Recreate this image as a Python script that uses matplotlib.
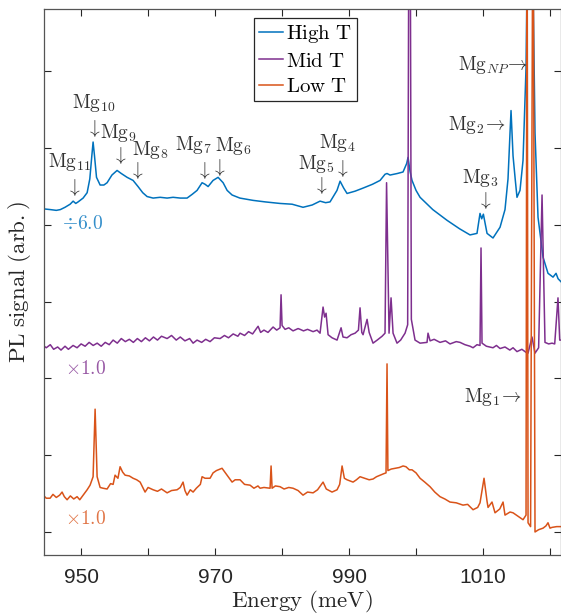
import matplotlib
matplotlib.use("Agg")
import matplotlib.pyplot as plt

plt.rcParams['mathtext.fontset'] = 'cm'
plt.rcParams['font.family'] = ['Liberation Sans', 'DejaVu Sans']

# energies (meV) and offset signal
high_E = [944.33, 945.4, 946.3, 946.9, 947.6, 948.36, 948.81, 949.2, 949.55, 950.3, 950.9, 951.3,
          951.6, 951.79, 952.0, 952.3, 952.84, 953.4, 953.88, 954.6, 955.37, 956.0, 956.87, 957.76,
          958.5, 959.2, 959.85, 960.75, 961.8, 962.84, 963.73, 964.8, 965.82, 966.6, 967.31, 968.06,
          968.5, 968.96, 969.7, 970.45, 971.2, 971.8, 972.54, 973.7, 975.67, 977.5, 979.7, 981.5,
          983.13, 984.5, 985.67, 986.5, 987.16, 988.2, 988.66, 989.2, 989.7, 990.9, 992.09, 993.5,
          994.63, 995.37, 995.67, 996.12, 997.2, 998.06, 998.6, 998.81, 999.1, 999.4, 1000.0, 1000.6,
          1002.5, 1004.63, 1006.5, 1008.06, 1009.1, 1009.55, 1009.8, 1010.05, 1010.6, 1011.49,
          1012.54, 1013.28, 1013.73, 1014.03, 1014.18, 1014.48, 1014.8, 1015.07, 1015.52, 1015.97,
          1016.42, 1016.57, 1017.0, 1017.46, 1017.76, 1018.21, 1018.96, 1019.7, 1020.45, 1020.9,
          1021.2, 1021.64]
high_y = [4.21, 4.20, 4.19, 4.20, 4.23, 4.27, 4.31, 4.28, 4.30, 4.35, 4.42, 4.60,
          4.90, 5.08, 4.90, 4.62, 4.52, 4.52, 4.55, 4.65, 4.71, 4.67, 4.62, 4.58,
          4.50, 4.42, 4.37, 4.35, 4.36, 4.35, 4.36, 4.35, 4.35, 4.40, 4.45, 4.55,
          4.53, 4.50, 4.58, 4.62, 4.55, 4.45, 4.39, 4.35, 4.32, 4.30, 4.28, 4.27,
          4.23, 4.26, 4.31, 4.29, 4.30, 4.45, 4.57, 4.48, 4.41, 4.44, 4.48, 4.53,
          4.58, 4.66, 4.67, 4.65, 4.67, 4.69, 4.80, 4.88, 4.70, 4.58, 4.45, 4.36,
          4.20, 4.06, 3.95, 3.87, 3.89, 4.15, 4.08, 4.14, 3.89, 3.83,
          3.97, 4.20, 4.60, 5.20, 5.49, 4.90, 4.60, 4.36, 4.45, 4.84,
          6.05, 7.20, 20.0, 7.20, 5.20, 4.10, 3.58, 3.37, 3.32, 3.37,
          3.30, 3.26]

mid_E = [944.33, 944.8, 945.4, 945.9, 946.5, 947.0, 947.6, 948.1, 948.8, 949.4, 950.0, 950.6,
         951.2, 951.8, 952.4, 953.0, 953.6, 954.2, 954.78, 955.4, 956.0, 956.6, 957.2, 957.8,
         958.4, 959.0, 959.6, 960.2, 960.8, 961.4, 962.0, 962.84, 963.5, 964.2, 964.8, 965.5,
         966.2, 966.72, 967.31, 968.0, 968.6, 969.25, 969.9, 970.75, 971.4, 972.0, 972.7, 973.4,
         973.73, 974.4, 975.0, 975.6, 976.42, 976.8, 977.3, 977.9, 978.66, 979.2, 979.7, 979.85,
         980.0, 980.45, 981.0, 981.64, 982.39, 982.69, 983.2, 983.8, 984.63, 985.22, 985.67, 986.12,
         986.35, 986.57, 986.87, 987.46, 988.21, 988.81, 989.1, 989.7, 990.3, 990.9, 991.4, 991.64,
         991.9, 992.09, 992.69, 993.0, 993.58, 994.2, 994.63, 994.93, 995.37, 995.6, 995.97, 996.27,
         996.57, 997.16, 997.7, 998.36, 998.75, 998.96, 999.1, 999.3, 999.85, 1000.6, 1001.64,
         1001.79, 1002.1, 1002.7, 1003.58, 1004.4, 1005.07, 1006.0, 1006.57, 1007.3, 1008.06,
         1008.51, 1009.1, 1009.55, 1009.7, 1009.85, 1010.5, 1011.49, 1012.0, 1012.54, 1013.28,
         1014.0, 1014.48, 1015.07, 1015.8, 1016.42, 1016.72, 1017.31, 1017.76, 1018.3, 1018.81,
         1019.25, 1019.8, 1020.3, 1020.7, 1021.19, 1021.45, 1021.64]
mid_y = [2.43, 2.40, 2.44, 2.38, 2.41, 2.37, 2.42, 2.38, 2.43, 2.40, 2.45, 2.42,
         2.47, 2.43, 2.46, 2.42, 2.47, 2.44, 2.50, 2.46, 2.52, 2.48, 2.51, 2.47,
         2.52, 2.48, 2.53, 2.49, 2.54, 2.50, 2.55, 2.52, 2.56, 2.50, 2.54, 2.49,
         2.52, 2.46, 2.50, 2.47, 2.51, 2.48, 2.53, 2.52, 2.56, 2.53, 2.58, 2.55,
         2.59, 2.56, 2.61, 2.58, 2.68, 2.60, 2.63, 2.60, 2.67, 2.63, 2.66, 3.09,
         2.69, 2.64, 2.66, 2.62, 2.65, 2.64, 2.62, 2.64, 2.61, 2.63, 2.59, 2.93,
         2.80, 2.85, 2.57, 2.53, 2.50, 2.66, 2.54, 2.53, 2.57, 2.59, 2.63, 2.92,
         2.60, 2.57, 2.77, 2.60, 2.46, 2.50, 2.53, 2.55, 2.59, 4.55, 2.59, 3.05,
         2.59, 2.46, 2.50, 2.59, 2.70, 9.00, 9.00, 2.77, 2.50, 2.46, 2.47,
         2.59, 2.49, 2.51, 2.47, 2.49, 2.45, 2.48, 2.47, 2.44, 2.42,
         2.40, 2.44, 2.43, 3.70, 2.46, 2.42, 2.40, 2.43, 2.39, 2.41,
         2.37, 2.40, 2.35, 2.38, 2.34, 2.33, 2.54, 2.33, 2.40, 4.39,
         2.47, 2.45, 2.46, 2.45, 3.05, 2.50, 2.50]

low_E = [944.33, 944.8, 945.37, 945.8, 946.3, 946.8, 947.16, 947.5, 947.91, 948.4, 948.9, 949.4,
         949.8, 950.3, 950.9, 951.34, 951.79, 952.09, 952.39, 952.84, 953.28, 953.88, 954.4, 954.78,
         955.07, 955.5, 955.82, 956.2, 956.57, 957.2, 957.76, 958.3, 958.81, 959.55, 960.0, 960.75,
         961.4, 962.0, 962.84, 963.5, 964.33, 964.8, 965.22, 965.5, 965.82, 966.3, 966.72, 967.2,
         967.8, 968.06, 968.5, 969.25, 969.7, 970.2, 970.75, 971.04, 971.79, 972.54, 973.0, 973.73,
         974.4, 975.22, 975.8, 976.4, 976.72, 977.3, 978.21, 978.36, 978.51, 979.0, 979.7, 980.3,
         981.0, 981.64, 982.39, 983.13, 983.8, 984.63, 985.3, 986.12, 986.6, 987.46, 988.21, 988.6,
         988.96, 989.3, 989.7, 990.3, 990.6, 991.1, 991.64, 992.3, 993.0, 993.58, 994.1, 994.63,
         995.2, 995.52, 995.67, 995.8, 996.3, 996.87, 997.5, 998.06, 998.5, 999.0, 999.4, 1000.0,
         1000.6, 1001.3, 1002.09, 1002.8, 1003.58, 1004.3, 1005.07, 1006.0, 1007.01, 1007.7,
         1008.51, 1009.2, 1009.55, 1010.15, 1010.6, 1010.75, 1011.34, 1011.79, 1012.5, 1012.99,
         1013.28, 1014.03, 1014.48, 1015.3, 1015.97, 1016.42, 1016.57, 1016.72, 1017.1, 1017.46,
         1017.76, 1018.3, 1018.96, 1019.4, 1019.7, 1020.0, 1020.3, 1021.0, 1021.64]
low_y = [0.48, 0.44, 0.44, 0.49, 0.45, 0.48, 0.52, 0.46, 0.42, 0.47, 0.43, 0.46,
         0.42, 0.48, 0.55, 0.61, 0.72, 1.60, 0.72, 0.58, 0.57, 0.56, 0.63, 0.62,
         0.74, 0.70, 0.85, 0.78, 0.74, 0.73, 0.70, 0.68, 0.65, 0.52, 0.58, 0.55,
         0.53, 0.56, 0.51, 0.54, 0.55, 0.58, 0.65, 0.54, 0.48, 0.55, 0.52, 0.57,
         0.62, 0.72, 0.70, 0.70, 0.77, 0.80, 0.82, 0.83, 0.74, 0.65, 0.68, 0.68,
         0.62, 0.61, 0.57, 0.60, 0.57, 0.58, 0.57, 0.86, 0.57, 0.60, 0.59, 0.56,
         0.58, 0.57, 0.54, 0.48, 0.52, 0.51, 0.55, 0.65, 0.56, 0.52, 0.55, 0.62,
         0.86, 0.70, 0.68, 0.66, 0.65, 0.68, 0.72, 0.70, 0.68, 0.69, 0.72, 0.74,
         0.76, 0.77, 2.19, 0.80, 0.82, 0.83, 0.84, 0.86, 0.85, 0.81, 0.81, 0.77,
         0.70, 0.65, 0.59, 0.52, 0.46, 0.43, 0.39, 0.38, 0.35, 0.36,
         0.29, 0.32, 0.38, 0.70, 0.40, 0.32, 0.39, 0.25, 0.30, 0.39,
         0.22, 0.26, 0.25, 0.20, 0.16, 0.22, 9.00, 0.12, 0.07, 9.00,
         0.00, 0.03, 0.05, 0.08, 0.12, 0.05, 0.06, 0.07, 0.07]

series_names = ['High T', 'Mid T', 'Low T']
series_colors = ['#0072BD', '#7E2F8E', '#D95319']

# peak labels: (subscript, text x, text y, arrow x, arrow y)
down_labels = [('11', 948.2, 4.82, 948.81, 4.49),
               ('10', 951.9, 5.59, 951.79, 5.26),
               ('9', 955.5, 5.20, 955.67, 4.90),
               ('8', 960.3, 4.97, 958.2, 4.71),
               ('7', 966.75, 5.04, 968.2, 4.71),
               ('6', 972.75, 5.03, 970.45, 4.75),
               ('5', 985.1, 4.80, 985.67, 4.52),
               ('4', 988.2, 5.07, 988.8, 4.74),
               ('3', 1009.55, 4.61, 1010.15, 4.32)]
# side labels: (subscript, right edge x, y)
side_labels = [('2', 1013.3, 5.30), ('NP', 1016.7, 6.08), ('1', 1015.7, 1.76)]
scale_labels = [(r'$\div6.0$', 947.2, 4.01), (r'$\times1.0$', 947.6, 2.12), (r'$\times1.0$', 947.6, 0.17)]

fig = plt.figure(figsize=(5.61, 6.16), dpi=100)
ax = fig.add_axes([0.0777, 0.099, 0.9223, 0.886])

for E, y, name, c in zip([high_E, mid_E, low_E], [high_y, mid_y, low_y], series_names, series_colors):
    ax.plot(E, y, color=c, lw=1.1, label=r'$\mathrm{' + name.replace(' ', r'\ ') + '}$')

tc = '#333333'
for sub, tx, ty, axx, ayy in down_labels:
    ax.text(tx, ty, r'$\mathrm{Mg}_{%s}$' % sub, ha='center', va='center', fontsize=14, color=tc)
    ax.text(axx, ayy, r'$\downarrow$', ha='center', va='center', fontsize=14, color=tc)
for sub, tx, ty in side_labels:
    ax.text(tx, ty, r'$\mathrm{Mg}_{%s}\!\rightarrow$' % sub, ha='right', va='center',
            fontsize=14, color=tc)
for (s, tx, ty), c in zip(scale_labels, series_colors):
    ax.text(tx, ty, s, ha='left', va='center', fontsize=14, color=c, alpha=0.8)

ax.set_xlim(944.4, 1021.64)
ax.set_ylim(-0.3, 6.81)
ax.set_xticks([950, 960, 970, 980, 990, 1000, 1010, 1020])
ax.set_xticklabels(['950', '', '970', '', '990', '', '1010', ''])
ax.set_yticks(range(7))
ax.set_yticklabels([])
ax.tick_params(direction='in', top=True, right=True, length=5, width=0.8,
               labelsize=15, colors='#262626', pad=9)
for sp in ax.spines.values():
    sp.set_color('#555555')
    sp.set_linewidth(0.9)

ax.set_xlabel(r'$\mathrm{Energy\ (meV)}$', fontsize=16.5, color='#262626', labelpad=1)
ax.set_ylabel(r'$\mathrm{PL\ signal\ (arb.)}$', fontsize=16.5, color='#262626')
ax.yaxis.set_label_coords(-0.02, 0.5)

leg = ax.legend(loc='upper left', bbox_to_anchor=(0.4067, 0.9835), fontsize=15, frameon=True,
                fancybox=False, borderaxespad=0, handlelength=1.15, handletextpad=0.15,
                labelspacing=0.3, borderpad=0.25, framealpha=1)
leg.get_frame().set_edgecolor('#262626')
leg.get_frame().set_linewidth(0.9)

fig.savefig('out.png', dpi=100)
